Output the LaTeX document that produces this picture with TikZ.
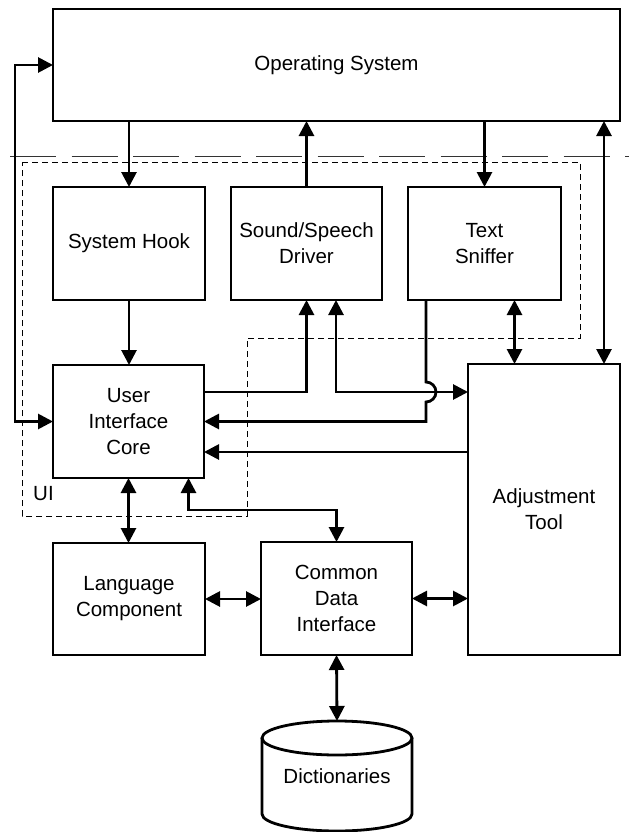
\documentclass[tikz,border=0pt]{standalone}
\usepackage{fontspec}
\setmainfont{Liberation Sans}
\usetikzlibrary{arrows.meta,calc}
\begin{document}
\begin{tikzpicture}[x=1pt,y=-1pt,
  lbl/.style={font=\fontsize{20.5}{26}\selectfont},
  box/.style={lbl, draw, line width=2.8pt, inner sep=0pt, outer sep=0pt, align=center},
  conn/.style={line width=2.8pt},
  >={Triangle[length=15pt,width=15pt]},
  uibox/.style={line width=0.9pt, dash pattern=on 6pt off 4pt},
  divider/.style={line width=0.9pt, black!80, dash pattern=on 46pt off 15.5pt}]
\useasboundingbox (0,0) rectangle (629,832);

% divider between the operating system and the application layer
\draw[divider] (10,156) -- (629,156);

% UI group outline
\draw[uibox] (22,162) -- (580,162) -- (580,338) -- (247,338) -- (247,516) -- (22,516) -- cycle;
\node[lbl, anchor=west, inner sep=0pt] (ui) at (33,494) {UI};

% components
\node[box, minimum width=567pt, minimum height=112pt] (os) at (336.5,65) {Operating System};
\node[box, minimum width=152pt, minimum height=113pt] (hook) at (129,243.5) {System Hook};
\node[box, minimum width=151pt, minimum height=113pt] (snd) at (306.5,243.5) {Sound/Speech\\Driver};
\node[box, minimum width=153pt, minimum height=113pt] (sniff) at (484.5,243.5) {Text\\Sniffer};
\node[box, minimum width=151pt, minimum height=113pt] (core) at (128.5,421.5) {User\\Interface\\Core};
\node[box, minimum width=152pt, minimum height=291pt] (adj) at (544,509.5) {Adjustment\\Tool};
\node[box, minimum width=152pt, minimum height=112pt] (lang) at (129,599) {Language\\Component};
\node[box, minimum width=151pt, minimum height=113pt] (cdi) at (336.5,598.5) {Common\\Data\\Interface};

% dictionary store (cylinder)
\node[lbl, minimum width=150pt, minimum height=110pt, inner sep=0pt, outer sep=0pt] (dict) at (337,776) {Dictionaries};
\draw[conn] ($(dict.north west)+(0,17)$) -- ($(dict.south west)+(0,-17)$)
  arc[start angle=180, end angle=0, x radius=75, y radius=17] -- ($(dict.north east)+(0,17)$);
\draw[conn] ($(dict.north)+(0,17)$) ellipse[x radius=75, y radius=17];

% helper rows for the core's right-hand connectors
\coordinate (ya) at ([yshift=29.5pt]core.east);
\coordinate (yb) at ([yshift=-30.5pt]core.east);
\coordinate (hx) at ([xshift=-58.5pt]sniff.south);

% connectors
\draw[conn,<->] (os.west) -| (15,421.5) -- (core.west);
\draw[conn,->] (hook.north |- os.south) -- (hook.north);
\draw[conn,->] (hook.south) -- (hook.south |- core.north);
\draw[conn,->] (snd.north) -- (snd.north |- os.south);
\draw[conn,->] (sniff.north |- os.south) -- (sniff.north);
\draw[conn,<->] ([xshift=-16pt]adj.north east |- os.south) -- ([xshift=-16pt]adj.north east);
\draw[conn,<->] ([xshift=30pt]sniff.south) -- ([xshift=30pt]sniff.south |- adj.north);
\draw[conn,->] (ya) -| (snd.south);
\draw[conn,<->] ([xshift=29.5pt]snd.south) |- (ya -| adj.west);
\draw[conn,->] (hx) -- ($(hx |- ya)+(0,-10)$) arc[start angle=-90, end angle=90, radius=10]
  |- (core.east);
\draw[conn,->] (yb -| adj.west) -- (yb);
\draw[conn,<->] (core.south) -- (core.south |- lang.north);
\draw[conn,<->] ([xshift=60pt]core.south) -- ++(0,32) -| (cdi.north);
\draw[conn,<->] (lang.east) -- (lang.east -| cdi.west);
\draw[conn,<->] (cdi.east) -- (cdi.east -| adj.west);
\draw[conn,<->] (cdi.south) -- (dict.north);
\end{tikzpicture}
\end{document}
